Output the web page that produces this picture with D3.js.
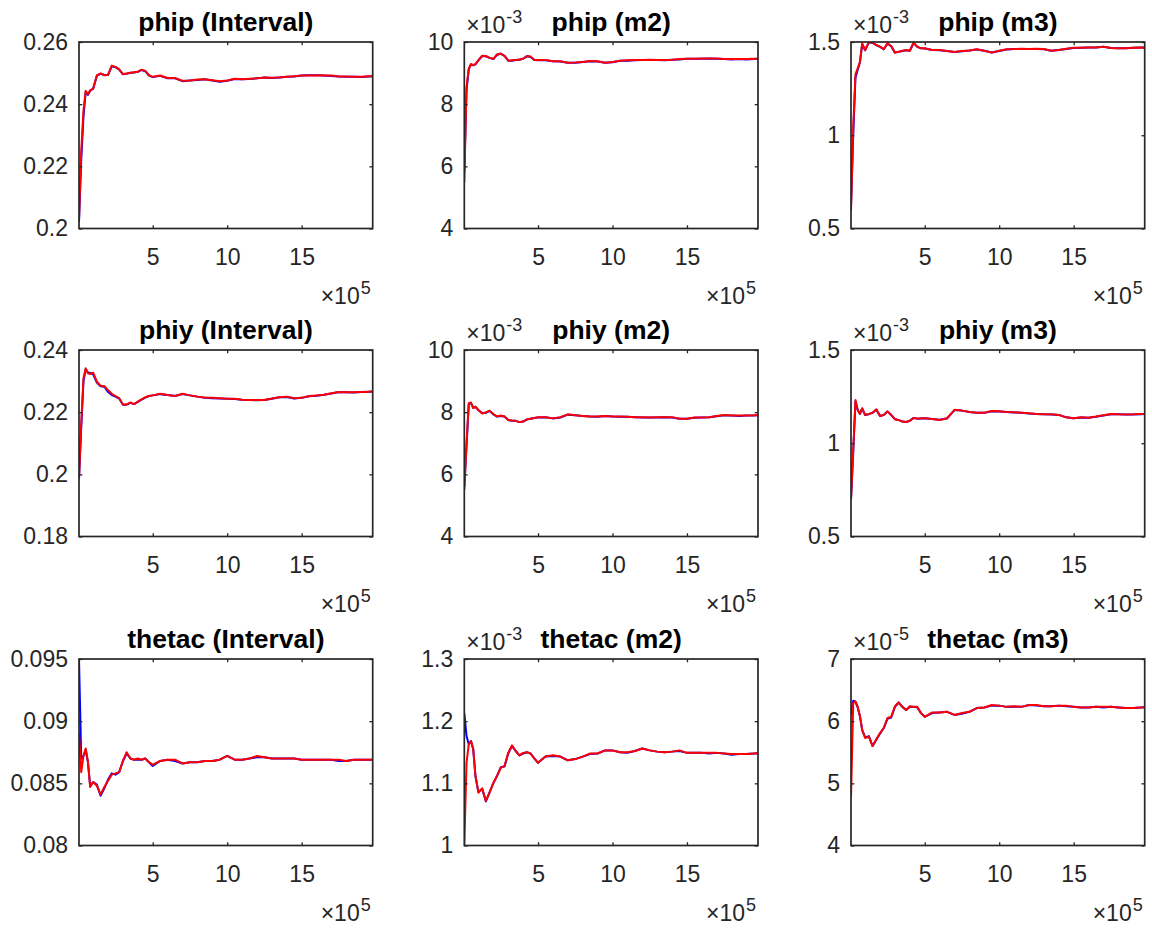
<!DOCTYPE html>
<html><head><meta charset="utf-8">
<script src="https://cdn.jsdelivr.net/npm/d3@7/dist/d3.min.js"></script>
<style>
body{margin:0;background:#fff}
svg{display:block}
text{font-family:"Liberation Sans",Arial,Helvetica,sans-serif}
</style>
</head><body>
<svg id="chart" width="1152" height="931"></svg>
<script>
// ---------- data ----------
const iterations = [5000,20000,35000,50000,65000,80000,100000,125000,150000,175000,200000,225000,250000,275000,300000,325000,350000,375000,400000,425000,450000,475000,500000,
  550000,600000,650000,700000,750000,800000,850000,900000,950000,1000000,1050000,1100000,1150000,1200000,1250000,1300000,1350000,1400000,1450000,1500000,1550000,1600000,1650000,1700000,1750000,1800000,1850000,1900000,1950000,1977000];

const titles = ["phip (Interval)","phip (m2)","phip (m3)","phiy (Interval)","phiy (m2)","phiy (m3)","thetac (Interval)","thetac (m2)","thetac (m3)"];
const xTicks = [500000,1000000,1500000];
const xTickLabels = ["5","10","15"];
const xExponent = "5";
const yDomains = [[0.2,0.26],[4,10],[0.5,1.5],[0.18,0.24],[4,10],[0.5,1.5],[0.08,0.095],[1,1.3],[4,7]];
const yTicks = [[0.2,0.22,0.24,0.26],[4,6,8,10],[0.5,1,1.5],[0.18,0.2,0.22,0.24],[4,6,8,10],[0.5,1,1.5],[0.08,0.085,0.09,0.095],[1,1.1,1.2,1.3],[4,5,6,7]];
const yTickLabels = [["0.2","0.22","0.24","0.26"],["4","6","8","10"],["0.5","1","1.5"],["0.18","0.2","0.22","0.24"],["4","6","8","10"],["0.5","1","1.5"],["0.08","0.085","0.09","0.095"],["1","1.1","1.2","1.3"],["4","5","6","7"]];
const yExponents = [null,"-3","-3",null,"-3","-3",null,"-3","-5"];

const phipIntervalBlue = [0.202,0.222,0.236,0.2440,0.2430,0.2443,0.2450,0.2491,0.2498,0.2494,0.2494,0.2522,0.2519,0.2511,0.2496,0.2498,0.2501,0.2502,0.2504,0.2510,0.2506,0.2492,0.2487,0.2491,0.2483,0.2483,0.2474,0.2476,0.2478,0.2480,0.2476,0.2472,0.2475,0.2481,0.2480,0.2481,0.2483,0.2486,0.2484,0.2486,0.2488,0.2489,0.2492,0.2493,0.2493,0.2492,0.2491,0.2489,0.2488,0.2488,0.2487,0.2489,0.2490];
const phipIntervalRed  = [0.203,0.225,0.238,0.2443,0.2432,0.2445,0.2449,0.2493,0.2499,0.2493,0.2494,0.2524,0.2520,0.2512,0.2497,0.2499,0.2501,0.2503,0.2504,0.2511,0.2507,0.2493,0.2488,0.2492,0.2484,0.2484,0.2475,0.2476,0.2479,0.2480,0.2477,0.2474,0.2476,0.2482,0.2480,0.2482,0.2483,0.2486,0.2485,0.2486,0.2488,0.2490,0.2492,0.2492,0.2493,0.2492,0.2492,0.2489,0.2489,0.2488,0.2488,0.2490,0.2490];
const phipM2Blue = [5.80,8.45,9.12,9.28,9.25,9.28,9.41,9.55,9.54,9.49,9.45,9.59,9.62,9.55,9.40,9.40,9.42,9.43,9.46,9.54,9.52,9.42,9.41,9.41,9.38,9.37,9.33,9.33,9.36,9.38,9.37,9.33,9.35,9.40,9.40,9.41,9.42,9.42,9.42,9.41,9.43,9.44,9.46,9.46,9.46,9.47,9.46,9.45,9.44,9.45,9.44,9.45,9.46];
const phipM2Red  = [5.49,8.56,9.15,9.29,9.26,9.29,9.42,9.56,9.55,9.49,9.46,9.60,9.63,9.55,9.40,9.41,9.42,9.44,9.46,9.55,9.53,9.42,9.42,9.42,9.38,9.38,9.33,9.34,9.36,9.39,9.38,9.33,9.36,9.40,9.41,9.42,9.42,9.43,9.42,9.42,9.43,9.45,9.46,9.46,9.47,9.47,9.47,9.45,9.45,9.45,9.45,9.46,9.46];
const phipM3Blue = [0.62,1.00,1.31,1.352,1.39,1.488,1.455,1.498,1.495,1.483,1.474,1.461,1.491,1.477,1.443,1.447,1.452,1.456,1.453,1.494,1.474,1.466,1.465,1.457,1.456,1.452,1.446,1.451,1.455,1.460,1.453,1.444,1.452,1.460,1.462,1.463,1.462,1.463,1.461,1.453,1.457,1.463,1.468,1.469,1.470,1.471,1.474,1.468,1.466,1.467,1.469,1.470,1.470];
const phipM3Red  = [0.595,1.044,1.328,1.358,1.394,1.493,1.457,1.500,1.496,1.484,1.475,1.461,1.493,1.478,1.443,1.448,1.453,1.457,1.453,1.496,1.475,1.466,1.466,1.457,1.457,1.452,1.446,1.452,1.455,1.461,1.453,1.443,1.453,1.461,1.462,1.464,1.462,1.464,1.462,1.453,1.457,1.464,1.469,1.469,1.471,1.471,1.475,1.468,1.466,1.466,1.469,1.471,1.469];
const phiyIntervalBlue = [0.1985,0.2150,0.2300,0.2338,0.2328,0.2326,0.2322,0.2295,0.2283,0.2282,0.2265,0.2255,0.2250,0.2244,0.2224,0.2224,0.2230,0.2226,0.2233,0.2240,0.2247,0.2252,0.2254,0.2258,0.2255,0.2252,0.2258,0.2254,0.2250,0.2246,0.2245,0.2244,0.2243,0.2242,0.2240,0.2239,0.2238,0.2239,0.2243,0.2248,0.2249,0.2244,0.2246,0.2251,0.2253,0.2256,0.2260,0.2265,0.2264,0.2263,0.2265,0.2266,0.2266];
const phiyIntervalRed  = [0.1987,0.2164,0.2309,0.2341,0.2325,0.2323,0.2327,0.2298,0.2285,0.2284,0.2271,0.2259,0.2252,0.2245,0.2225,0.2225,0.2231,0.2226,0.2234,0.2241,0.2248,0.2252,0.2254,0.2259,0.2255,0.2252,0.2259,0.2254,0.2250,0.2247,0.2246,0.2245,0.2243,0.2243,0.2240,0.2239,0.2239,0.2239,0.2244,0.2248,0.2250,0.2245,0.2246,0.2252,0.2254,0.2256,0.2261,0.2265,0.2264,0.2264,0.2265,0.2266,0.2267];
const phiyM2Blue = [5.60,6.90,8.25,8.30,8.14,8.17,8.06,7.97,7.98,8.04,7.93,7.86,7.88,7.86,7.75,7.72,7.72,7.68,7.70,7.76,7.79,7.81,7.83,7.84,7.80,7.83,7.92,7.90,7.88,7.86,7.85,7.88,7.86,7.85,7.85,7.84,7.83,7.83,7.83,7.84,7.83,7.79,7.79,7.82,7.83,7.84,7.87,7.90,7.89,7.88,7.89,7.89,7.90];
const phiyM2Red  = [5.50,7.00,8.29,8.31,8.13,8.18,8.07,7.96,7.99,8.05,7.94,7.86,7.89,7.86,7.75,7.73,7.72,7.68,7.70,7.77,7.79,7.81,7.84,7.84,7.80,7.84,7.93,7.90,7.88,7.86,7.86,7.88,7.86,7.86,7.85,7.84,7.84,7.83,7.84,7.84,7.84,7.79,7.79,7.83,7.83,7.84,7.88,7.91,7.89,7.89,7.89,7.90,7.91];
const phiyM3Blue = [0.70,0.95,1.225,1.178,1.158,1.186,1.151,1.156,1.163,1.180,1.146,1.151,1.170,1.151,1.129,1.124,1.116,1.114,1.120,1.135,1.132,1.133,1.134,1.130,1.126,1.133,1.178,1.175,1.167,1.164,1.163,1.172,1.170,1.168,1.165,1.164,1.160,1.157,1.155,1.154,1.152,1.139,1.134,1.138,1.137,1.142,1.149,1.156,1.155,1.154,1.154,1.156,1.157];
const phiyM3Red  = [0.696,0.964,1.232,1.179,1.157,1.188,1.152,1.157,1.164,1.182,1.146,1.152,1.171,1.152,1.129,1.125,1.116,1.114,1.121,1.136,1.132,1.134,1.134,1.130,1.125,1.134,1.179,1.175,1.168,1.164,1.164,1.173,1.171,1.168,1.166,1.164,1.161,1.157,1.155,1.155,1.152,1.139,1.134,1.139,1.137,1.143,1.150,1.157,1.155,1.154,1.155,1.157,1.157];
const thetacIntervalBlue = [0.0950,0.0870,0.0872,0.0877,0.0867,0.0848,0.0851,0.0849,0.0840,0.0846,0.0853,0.0858,0.0857,0.0859,0.0868,0.0874,0.0870,0.0869,0.0869,0.0869,0.0870,0.0867,0.0864,0.0868,0.0869,0.0868,0.0866,0.0867,0.0867,0.0868,0.0868,0.0869,0.0872,0.0869,0.0869,0.0870,0.0871,0.0871,0.0870,0.0870,0.0870,0.0870,0.0869,0.0869,0.0869,0.0869,0.0869,0.0868,0.0868,0.0869,0.0869,0.0869,0.0869];
const thetacIntervalRed  = [0.0890,0.0859,0.0872,0.0878,0.0867,0.0847,0.0851,0.0848,0.0841,0.0847,0.0852,0.0857,0.0858,0.0859,0.0868,0.0875,0.0870,0.0869,0.0870,0.0869,0.0870,0.0867,0.0865,0.0868,0.0869,0.0869,0.0866,0.0867,0.0867,0.0868,0.0868,0.0869,0.0872,0.0869,0.0869,0.0870,0.0872,0.0871,0.0870,0.0870,0.0870,0.0870,0.0869,0.0869,0.0869,0.0869,0.0869,0.0869,0.0868,0.0869,0.0869,0.0869,0.0869];
const thetacM2Blue = [1.213,1.176,1.163,1.168,1.155,1.111,1.086,1.091,1.071,1.086,1.100,1.112,1.126,1.127,1.148,1.160,1.152,1.145,1.148,1.150,1.148,1.140,1.133,1.143,1.144,1.143,1.137,1.139,1.143,1.147,1.148,1.153,1.153,1.150,1.149,1.152,1.156,1.153,1.151,1.150,1.151,1.152,1.149,1.149,1.149,1.148,1.149,1.148,1.146,1.147,1.147,1.148,1.148];
const thetacM2Red  = [1.000,1.133,1.163,1.168,1.155,1.112,1.085,1.092,1.072,1.085,1.101,1.112,1.125,1.128,1.149,1.161,1.152,1.145,1.149,1.150,1.148,1.140,1.133,1.143,1.145,1.143,1.137,1.139,1.143,1.148,1.148,1.153,1.153,1.150,1.150,1.152,1.156,1.153,1.151,1.150,1.151,1.153,1.149,1.149,1.149,1.149,1.149,1.148,1.147,1.147,1.147,1.148,1.149];
const thetacM3Blue = [6.10,6.33,6.31,6.22,6.08,5.86,5.74,5.76,5.60,5.70,5.80,5.89,6.04,6.06,6.23,6.30,6.23,6.18,6.23,6.23,6.22,6.13,6.07,6.13,6.14,6.15,6.10,6.12,6.15,6.21,6.22,6.25,6.25,6.23,6.23,6.23,6.26,6.25,6.24,6.24,6.25,6.24,6.23,6.22,6.22,6.23,6.22,6.23,6.22,6.21,6.21,6.22,6.22];
const thetacM3Red  = [4.77,6.29,6.32,6.23,6.08,5.86,5.73,5.75,5.60,5.71,5.81,5.89,6.05,6.07,6.24,6.30,6.23,6.18,6.24,6.23,6.23,6.13,6.07,6.14,6.14,6.15,6.10,6.13,6.15,6.21,6.22,6.26,6.25,6.23,6.24,6.23,6.26,6.26,6.24,6.24,6.25,6.25,6.23,6.22,6.22,6.23,6.23,6.23,6.22,6.21,6.21,6.22,6.23];

const blueSeries = [phipIntervalBlue,phipM2Blue,phipM3Blue,phiyIntervalBlue,phiyM2Blue,phiyM3Blue,thetacIntervalBlue,thetacM2Blue,thetacM3Blue];
const redSeries  = [phipIntervalRed,phipM2Red,phipM3Red,phiyIntervalRed,phiyM2Red,phiyM3Red,thetacIntervalRed,thetacM2Red,thetacM3Red];

// ---------- layout ----------
const colLefts = [79, 464.3, 851];
const rowTops = [42, 350, 659];
const pw = 293.7, ph = 186.5;
const xDomain = [5000, 1977000];
const axisColor = "#262626";
const tickFont = 23, titleFont = 26.5, supFont = 18;

const svg = d3.select("#chart");

for (let i = 0; i < 9; i++) {
  const col = i % 3, row = Math.floor(i / 3);
  const g = svg.append("g").attr("transform", `translate(${colLefts[col]},${rowTops[row]})`);
  const x = d3.scaleLinear().domain(xDomain).range([0, pw]);
  const y = d3.scaleLinear().domain(yDomains[i]).range([ph, 0]);

  g.append("clipPath").attr("id", "clip" + i)
    .append("rect").attr("x", 0).attr("y", 0).attr("width", pw).attr("height", ph);

  const line = d3.line().x((d, k) => x(iterations[k])).y(d => y(d));
  const plot = g.append("g").attr("clip-path", `url(#clip${i})`);
  plot.append("path").datum(blueSeries[i]).attr("d", line)
    .attr("fill", "none").attr("stroke", "#0000ff").attr("stroke-width", 2).attr("stroke-linejoin", "round");
  plot.append("path").datum(redSeries[i]).attr("d", line)
    .attr("fill", "none").attr("stroke", "#ff0000").attr("stroke-width", 2).attr("stroke-linejoin", "round");

  const styleAxis = sel => {
    sel.select(".domain").remove();
    sel.selectAll(".tick line").attr("stroke", axisColor).attr("stroke-width", 1.3);
    sel.selectAll(".tick text").attr("fill", axisColor).style("font-size", tickFont + "px")
      .style("font-family", '"Liberation Sans",Arial,Helvetica,sans-serif');
  };

  // left
  g.append("g").call(d3.axisLeft(y).tickValues(yTicks[i]).tickFormat((d, k) => yTickLabels[i][k]).tickSize(-3.3).tickPadding(11)).call(styleAxis);
  // right
  g.append("g").attr("transform", `translate(${pw},0)`).call(d3.axisRight(y).tickValues(yTicks[i]).tickFormat("").tickSize(-3.3)).call(styleAxis);
  // bottom
  g.append("g").attr("transform", `translate(0,${ph})`).call(d3.axisBottom(x).tickValues(xTicks).tickFormat((d, k) => xTickLabels[k]).tickSize(-3.3).tickPadding(20)).call(styleAxis);
  // top
  g.append("g").call(d3.axisTop(x).tickValues(xTicks).tickFormat("").tickSize(-3.3)).call(styleAxis);

  // box
  g.append("rect").attr("x", 0).attr("y", 0).attr("width", pw).attr("height", ph)
    .attr("fill", "none").attr("stroke", axisColor).attr("stroke-width", 1.7);

  // title
  g.append("text").attr("x", pw / 2).attr("y", -11).attr("text-anchor", "middle")
    .style("font-size", titleFont + "px").style("font-weight", "bold").attr("fill", "#000")
    .text(titles[i]);

  // x exponent
  const xe = g.append("text").attr("x", pw - 2).attr("y", ph + 75).attr("text-anchor", "end")
    .attr("fill", axisColor).style("font-size", tickFont + "px");
  xe.append("tspan").text("\u00D710");
  xe.append("tspan").attr("dx", 1).attr("dy", -10).style("font-size", supFont + "px").text(xExponent);

  // y exponent
  if (yExponents[i]) {
    const ye = g.append("text").attr("x", 2).attr("y", -8.7).attr("text-anchor", "start")
      .attr("fill", axisColor).style("font-size", tickFont + "px");
    ye.append("tspan").text("\u00D710");
    ye.append("tspan").attr("dx", 1).attr("dy", -10).style("font-size", supFont + "px").text(yExponents[i]);
  }
}
</script>
</body></html>
